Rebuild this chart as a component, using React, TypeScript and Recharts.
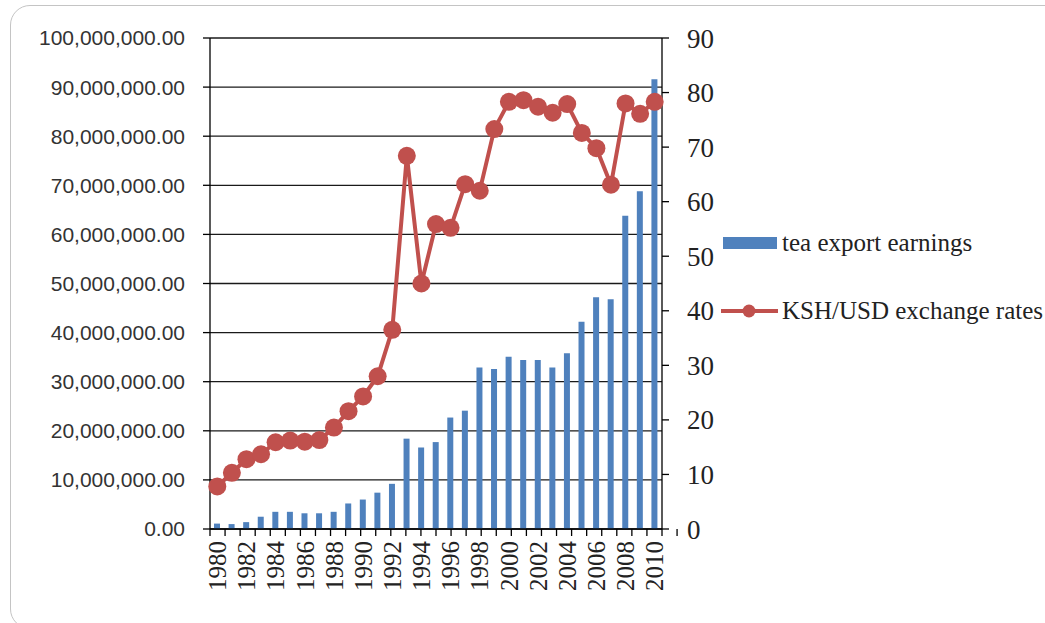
import React from "react";
import {
  Bar,
  CartesianGrid,
  ComposedChart,
  Legend,
  Line,
  XAxis,
  YAxis,
} from "recharts";

const years = [
  "1980", "1981", "1982", "1983", "1984", "1985", "1986", "1987", "1988", "1989",
  "1990", "1991", "1992", "1993", "1994", "1995", "1996", "1997", "1998", "1999",
  "2000", "2001", "2002", "2003", "2004", "2005", "2006", "2007", "2008", "2009",
  "2010",
];

// tea export earnings
const earnings = [
  1100000, 1000000, 1400000, 2500000, 3500000, 3500000, 3200000, 3200000, 3500000, 5200000,
  6000000, 7400000, 9200000, 18400000, 16600000, 17700000, 22700000, 24100000, 32900000, 32600000,
  35100000, 34400000, 34400000, 32900000, 35800000, 42200000, 47200000, 46800000, 63800000, 68800000,
  91600000,
];

// KSH/USD exchange rates
const rates = [
  7.8, 10.3, 12.8, 13.7, 15.9, 16.2, 16.0, 16.3, 18.6, 21.6,
  24.3, 28.0, 36.5, 68.4, 45.0, 55.9, 55.2, 63.2, 62.0, 73.3,
  78.3, 78.6, 77.4, 76.3, 77.9, 72.6, 69.8, 63.1, 78.0, 76.1,
  78.3,
];

const leftTicks = [0, 10e6, 20e6, 30e6, 40e6, 50e6, 60e6, 70e6, 80e6, 90e6, 100e6];
const rightTicks = [0, 10, 20, 30, 40, 50, 60, 70, 80, 90];

const BLUE = "#4F81BD";
const RED = "#C0504D";

const data = years.map((year, i) => ({
  year,
  earnings: earnings[i],
  rate: rates[i],
}));

// tick marks sit on the category boundaries
const boundaries = Array.from({ length: years.length + 1 }, (_, i) => i);

const fmtMoney = (v: number) =>
  v.toLocaleString("en-US", { minimumFractionDigits: 2, maximumFractionDigits: 2 });

const EmptyTick = () => <g />;

const YearTick = (props: any) => {
  const { x, y, payload } = props;
  return (
    <text
      x={x}
      y={y}
      dy="0.35em"
      transform={`rotate(-90 ${x} ${y})`}
      textAnchor="end"
      fontFamily="Liberation Serif"
      fontSize={25}
      fill="#222"
    >
      {payload.value}
    </text>
  );
};

const LegendBox = () => (
  <div style={{ fontFamily: "Liberation Serif", fontSize: 25, color: "#222", whiteSpace: "nowrap" }}>
    <div style={{ display: "flex", alignItems: "center", height: 30 }}>
      <svg width={61} height={14}>
        <rect x={2} y={1} width={54} height={12} fill={BLUE} />
      </svg>
      <span>tea export earnings</span>
    </div>
    <div style={{ display: "flex", alignItems: "center", height: 30, marginTop: 38 }}>
      <svg width={61} height={16}>
        <line x1={0} y1={8} x2={57} y2={8} stroke={RED} strokeWidth={4} />
        <circle cx={28} cy={8} r={6.5} fill={RED} />
      </svg>
      <span>KSH/USD exchange rates</span>
    </div>
  </div>
);

export default function App() {
  return (
    <div
      style={{
        position: "fixed",
        left: 0,
        top: 0,
        width: 1045,
        height: 623,
        overflow: "hidden",
        background: "#fff",
      }}
    >
      <div
        style={{
          position: "absolute",
          left: 10,
          top: 5,
          width: 1060,
          height: 622,
          border: "1px solid #c4c4c4",
          borderRadius: 20,
        }}
      >
        <ComposedChart
          width={1045}
          height={613}
          data={data}
          margin={{ top: 32, right: 344, bottom: 0, left: 0 }}
          barGap={0}
        >
          <CartesianGrid
            yAxisId="left"
            xAxisId={1}
            vertical={false}
            stroke="#1a1a1a"
            strokeWidth={1.3}
          />
          <XAxis
            xAxisId={0}
            type="number"
            domain={[0, years.length]}
            ticks={boundaries}
            allowDataOverflow
            interval={0}
            tick={<EmptyTick />}
            tickSize={7}
            height={1}
            axisLine={{ stroke: "#000", strokeWidth: 1.3 }}
            tickLine={{ stroke: "#000", strokeWidth: 1.3 }}
          />
          <XAxis
            xAxisId={1}
            dataKey="year"
            interval={1}
            height={89}
            tickLine={false}
            axisLine={false}
            tickSize={0}
            tickMargin={11}
            tick={<YearTick />}
          />
          <YAxis
            yAxisId="left"
            domain={[0, 100e6]}
            ticks={leftTicks}
            width={199}
            tickFormatter={fmtMoney}
            tickSize={7}
            tickMargin={18}
            axisLine={{ stroke: "#000", strokeWidth: 1.3 }}
            tickLine={{ stroke: "#000", strokeWidth: 1.3 }}
            tick={{ fontFamily: "Liberation Sans", fontSize: 21, fill: "#333" }}
          />
          <YAxis
            yAxisId="right"
            orientation="right"
            domain={[0, 90]}
            ticks={rightTicks}
            width={50}
            tickSize={7}
            tickMargin={18}
            axisLine={{ stroke: "#000", strokeWidth: 1.3 }}
            tickLine={{ stroke: "#000", strokeWidth: 1.3 }}
            tick={{ fontFamily: "Liberation Serif", fontSize: 27, fill: "#222", textAnchor: "start" }}
          />
          <Bar
            xAxisId={1}
            yAxisId="left"
            dataKey="earnings"
            name="tea export earnings"
            fill={BLUE}
            barSize={6}
            isAnimationActive={false}
          />
          <Line
            xAxisId={1}
            yAxisId="right"
            dataKey="rate"
            name="KSH/USD exchange rates"
            stroke={RED}
            strokeWidth={4}
            dot={{ r: 9, fill: RED, stroke: RED, strokeWidth: 0 }}
            activeDot={false}
            isAnimationActive={false}
          />
          <Legend
            layout="horizontal"
            verticalAlign="middle"
            align="center"
            content={<LegendBox />}
            wrapperStyle={{ left: 710, top: 222, width: 340 }}
          />
        </ComposedChart>
      </div>
    </div>
  );
}
